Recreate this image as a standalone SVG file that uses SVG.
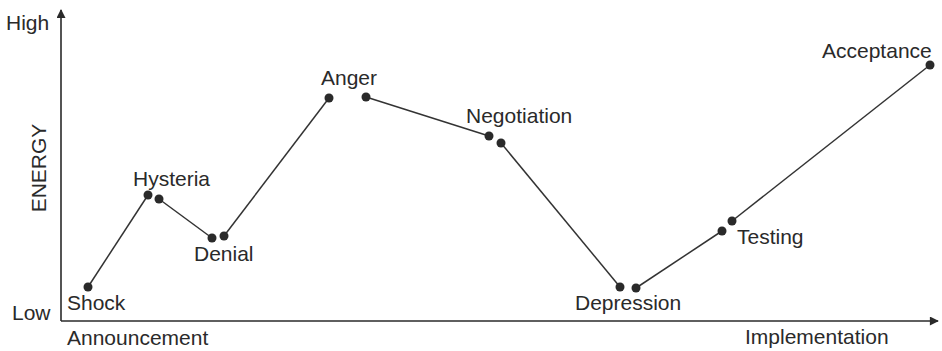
<svg xmlns="http://www.w3.org/2000/svg" width="942" height="351" viewBox="0 0 942 351">
  <style>
    text { font-family: "Liberation Sans", Arial, sans-serif; font-size: 21px; fill: #2a2a2a; }
    .axis { stroke: #2a2a2a; stroke-width: 1.6; fill: none; }
    .link { stroke: #333; stroke-width: 1.5; fill: none; }
    .dot { fill: #2a2a2a; }
  </style>
  <defs>
    <marker id="arrow" viewBox="0 0 10 10" refX="9" refY="5" markerWidth="10" markerHeight="9" markerUnits="userSpaceOnUse" orient="auto">
      <path d="M0,0 L10,5 L0,10 z" fill="#2a2a2a"/>
    </marker>
  </defs>
  <rect width="942" height="351" fill="#ffffff"/>

  <!-- axes -->
  <g id="axes">
    <line class="axis" x1="61" y1="321" x2="61" y2="10" marker-end="url(#arrow)"/>
    <line class="axis" x1="61" y1="321" x2="938" y2="321" marker-end="url(#arrow)"/>
    <text x="6" y="30">High</text>
    <text x="12" y="320">Low</text>
    <text transform="translate(46,168) rotate(-90)" text-anchor="middle">ENERGY</text>
    <text x="67" y="345">Announcement</text>
    <text x="745" y="344">Implementation</text>
  </g>

  <!-- connectors between stages -->
  <g id="connectors">
    <line class="link" x1="88" y1="287" x2="148" y2="195"/>
    <line class="link" x1="159" y1="199" x2="212" y2="238"/>
    <line class="link" x1="224" y1="236" x2="329" y2="98"/>
    <line class="link" x1="366" y1="97" x2="489" y2="136"/>
    <line class="link" x1="501" y1="143" x2="620" y2="287"/>
    <line class="link" x1="636" y1="288" x2="722" y2="231"/>
    <line class="link" x1="732" y1="221" x2="930" y2="65"/>
  </g>

  <g id="shock">
    <circle class="dot" cx="88" cy="287" r="4.5"/>
    <text x="67" y="310">Shock</text>
  </g>
  <g id="hysteria">
    <circle class="dot" cx="148" cy="195" r="4.5"/>
    <circle class="dot" cx="159" cy="199" r="4.5"/>
    <text x="133" y="186">Hysteria</text>
  </g>
  <g id="denial">
    <circle class="dot" cx="212" cy="238" r="4.5"/>
    <circle class="dot" cx="224" cy="236" r="4.5"/>
    <text x="194" y="261">Denial</text>
  </g>
  <g id="anger">
    <circle class="dot" cx="329" cy="98" r="4.5"/>
    <circle class="dot" cx="366" cy="97" r="4.5"/>
    <text x="321" y="85">Anger</text>
  </g>
  <g id="negotiation">
    <circle class="dot" cx="489" cy="136" r="4.5"/>
    <circle class="dot" cx="501" cy="143" r="4.5"/>
    <text x="466" y="123">Negotiation</text>
  </g>
  <g id="depression">
    <circle class="dot" cx="620" cy="287" r="4.5"/>
    <circle class="dot" cx="636" cy="288" r="4.5"/>
    <text x="575" y="310">Depression</text>
  </g>
  <g id="testing">
    <circle class="dot" cx="722" cy="231" r="4.5"/>
    <circle class="dot" cx="732" cy="221" r="4.5"/>
    <text x="737" y="244">Testing</text>
  </g>
  <g id="acceptance">
    <circle class="dot" cx="930" cy="65" r="4.5"/>
    <text x="822" y="58">Acceptance</text>
  </g>
</svg>
